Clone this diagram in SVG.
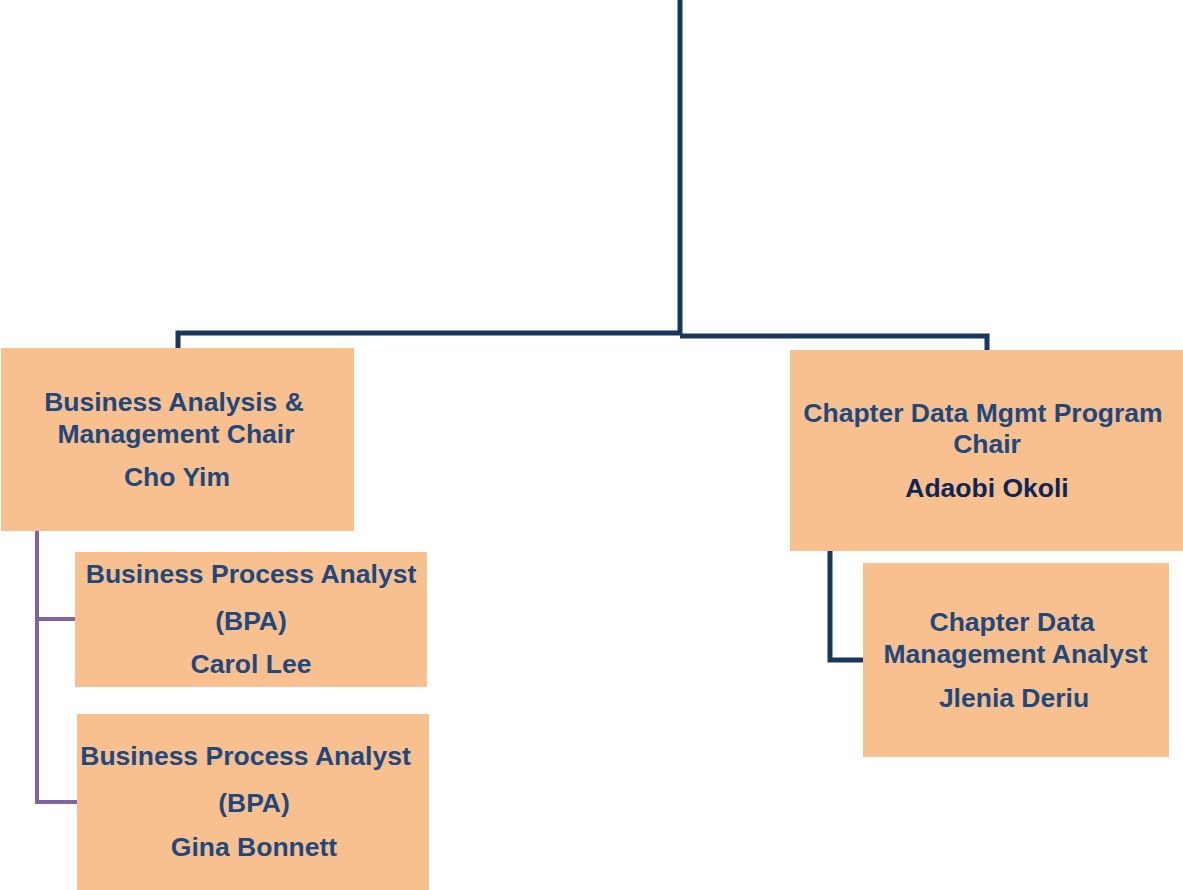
<svg xmlns="http://www.w3.org/2000/svg" width="1183" height="890" viewBox="0 0 1183 890">
<style>
.box{fill:#F9C08F}
.t{font-family:"Liberation Sans",Arial,sans-serif;font-weight:bold;font-size:26.5px;fill:#1F497D;text-anchor:middle}
.dk{fill:#0F2557}
.c1{fill:none;stroke:#17375E;stroke-width:5}
.c2{fill:none;stroke:#8064A2;stroke-width:4}
</style>
<rect width="1183" height="890" fill="#fff"/>
<g id="connectors">
<path class="c1" d="M680 0 V334 M178 348 V333 H680 M680 336 H987 V350"/>
<path class="c1" d="M830 551 V660 H863"/>
<path class="c2" d="M37 531 V802 H77 M37 619 H75"/>
</g>
<g id="n1">
<rect class="box" x="1" y="348" width="353" height="183"/>
<text class="t" x="174" y="411">Business Analysis &amp;</text>
<text class="t" x="176" y="443">Management Chair</text>
<text class="t" x="177" y="486">Cho Yim</text>
</g>
<g id="n2">
<rect class="box" x="75" y="552" width="352" height="135"/>
<text class="t" x="251" y="583">Business Process Analyst</text>
<text class="t" x="251" y="630">(BPA)</text>
<text class="t" x="251" y="673">Carol Lee</text>
</g>
<g id="n3">
<rect class="box" x="77" y="714" width="352" height="176"/>
<text class="t" x="245.5" y="765">Business Process Analyst</text>
<text class="t" x="254" y="812">(BPA)</text>
<text class="t" x="254" y="856">Gina Bonnett</text>
</g>
<g id="n4">
<rect class="box" x="790" y="350" width="393" height="201"/>
<text class="t" x="983" y="422">Chapter Data Mgmt Program</text>
<text class="t" x="987" y="453">Chair</text>
<text class="t dk" x="987" y="497">Adaobi Okoli</text>
</g>
<g id="n5">
<rect class="box" x="863" y="563" width="306" height="194"/>
<text class="t" x="1012" y="631">Chapter Data</text>
<text class="t" x="1015.5" y="663">Management Analyst</text>
<text class="t" x="1014" y="707">Jlenia Deriu</text>
</g>
</svg>
